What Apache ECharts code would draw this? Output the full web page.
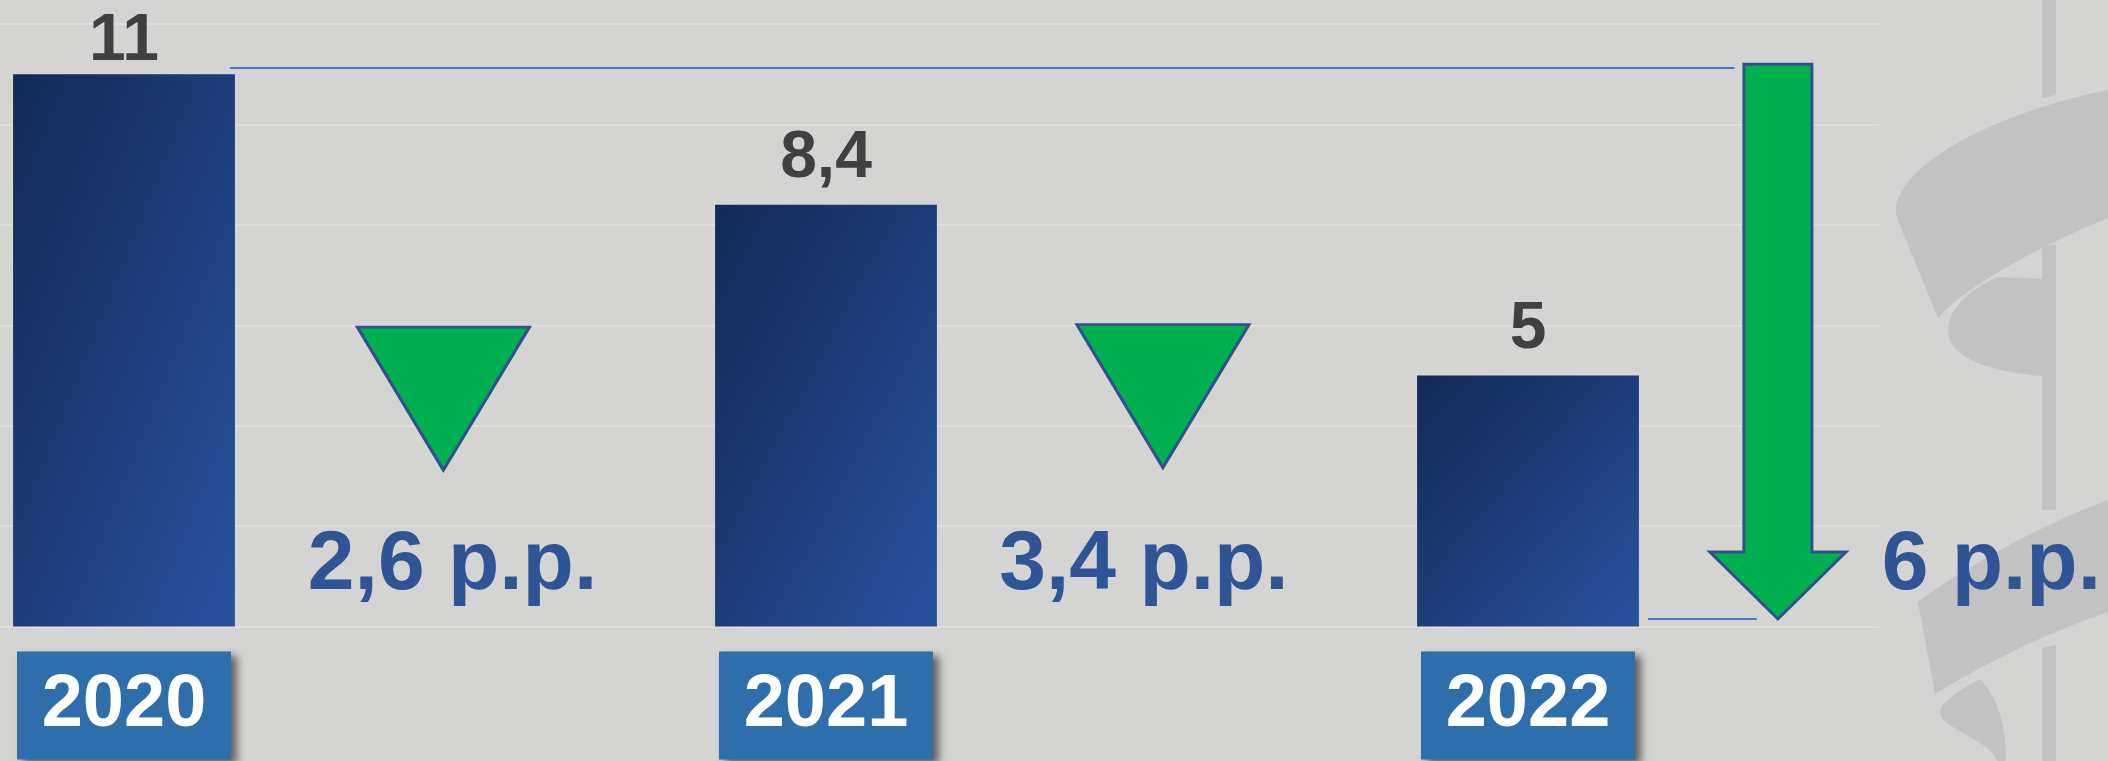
<!DOCTYPE html>
<html lang="pl">
<head>
    <meta charset="UTF-8">
    <title>Spadek p.p.</title>
    <script src="https://cdn.jsdelivr.net/npm/echarts@6/dist/echarts.min.js"></script>
    <style>
        html, body {
            margin: 0;
            padding: 0;
            background: #D4D4D2;
            overflow: hidden;
        }
        /* wykres zaczyna się poza lewą krawędzią, jak w oryginale */
        #chart {
            position: absolute;
            left: -227px;
            top: 0;
            width: 2335px;
            height: 761px;
        }
    </style>
</head>
<body>
<div id="chart"></div>
<script>
    // dane
    const years = ['2020', '2021', '2022'];
    const rates = [11, 8.4, 5];

    // spadki między latami (p.p.) i ich położenie na osi pomocniczej
    const drops = [2.6, 3.4, 6];
    const dropTextX = [0.468, 1.453, 2.66];
    const dropTextY = [1.2, 1.2, 1.2];
    const triangleX = [0.455, 1.48];
    const triangleY = [4.54, 4.59];

    // strzałka całkowitego spadku: [x, góra, grot]
    const arrowX = 2.356;
    const arrowTop = 11.2;
    const arrowTip = 0.15;

    // linie pomocnicze
    const guideTop = [[0.151, 11.13], [2.294, 11.13]];
    const guideBottom = [[2.171, 0.15], [2.326, 0.15]];

    // znak wodny (tło, w pikselach ekranu)
    const watermark = [
        'M2042,0 L2056,0 L2056,95 L2042,98 Z',
        'M2042,247 L2056,244 L2056,510 L2042,510 Z',
        'M2042,648 L2056,645 L2056,761 L2042,761 Z',
        'M1897,218 L1938,318 C1962,290 2030,250 2108,218 L2108,90 C2030,105 1925,145 1900,195 Q1893,206 1897,218 Z',
        'M1997,277 L2042,279 L2042,376 C1990,372 1948,358 1948,330 C1948,305 1975,288 1997,277 Z',
        'M2108,500 C2040,525 1960,570 1918,602 L1935,694 C1990,660 2050,632 2108,612 Z',
        'M1980,679 C1960,690 1938,703 1940,714 C1945,730 1990,740 1997,761 L2006,761 C2006,730 2000,700 1980,679 Z'
    ];
    const SHIFT = 227;

    const fmt = v => String(v).replace('.', ',');
    const FONT = "'Liberation Sans', Arial, sans-serif";

    const chart = echarts.init(document.getElementById('chart'));

    const option = {
        backgroundColor: '#D4D4D2',
        animation: false,
        grid: { left: 0, right: 229, top: 24, bottom: 134.5 },
        xAxis: [
            {
                type: 'category',
                data: years,
                axisLine: { show: false },
                axisTick: { show: false },
                axisLabel: {
                    margin: 25,
                    formatter: v => '{b|' + v + '}',
                    rich: {
                        b: {
                            width: 214,
                            height: 108,
                            lineHeight: 108,
                            align: 'center',
                            backgroundColor: '#2E6EAA',
                            color: '#FFFFFF',
                            fontSize: 74,
                            fontWeight: 'bold',
                            fontFamily: FONT,
                            shadowColor: 'rgba(0,0,0,0.55)',
                            shadowBlur: 8,
                            shadowOffsetX: 6,
                            shadowOffsetY: 4
                        }
                    }
                }
            },
            { type: 'value', min: -0.5, max: 2.5, show: false }
        ],
        yAxis: {
            type: 'value',
            min: 0,
            max: 12,
            interval: 2,
            axisLabel: { show: false },
            axisLine: { show: false },
            axisTick: { show: false },
            splitLine: { lineStyle: { color: '#DEDEDC', width: 2 } }
        },
        series: [
            {
                type: 'custom',
                coordinateSystem: 'none',
                silent: true,
                z: 0,
                data: [0],
                renderItem: () => ({
                    type: 'group',
                    x: SHIFT,
                    children: watermark.map(d => ({
                        type: 'path',
                        shape: { pathData: d },
                        style: { fill: '#C2C2C2' }
                    }))
                })
            },
            {
                id: 'bars',
                type: 'bar',
                data: rates,
                barWidth: '31.6%',
                itemStyle: { color: '#1E3C78' },
                label: {
                    show: true,
                    position: 'top',
                    distance: 13,
                    formatter: p => fmt(p.value),
                    color: '#404040',
                    fontSize: 66,
                    fontWeight: 'bold',
                    fontFamily: FONT
                }
            },
            {
                type: 'lines',
                coordinateSystem: 'cartesian2d',
                xAxisIndex: 1,
                silent: true,
                lineStyle: { color: '#4A78C8', width: 2, opacity: 1 },
                data: [{ coords: guideTop }, { coords: guideBottom }]
            },
            {
                type: 'scatter',
                xAxisIndex: 1,
                clip: false,
                symbol: 'triangle',
                symbolRotate: 180,
                symbolSize: [172, 143],
                itemStyle: { color: '#00B050', borderColor: '#2F528F', borderWidth: 3, opacity: 1 },
                data: triangleX.map((x, i) => [x, triangleY[i]])
            },
            {
                type: 'custom',
                xAxisIndex: 1,
                clip: false,
                data: [[arrowX, arrowTop, arrowTip]],
                renderItem: (params, api) => {
                    const top = api.coord([api.value(0), api.value(1)]);
                    const tip = api.coord([api.value(0), api.value(2)]);
                    const cx = top[0];
                    const headY = tip[1] - 67;
                    return {
                        type: 'polygon',
                        shape: {
                            points: [
                                [cx - 34, top[1]], [cx + 34, top[1]], [cx + 34, headY],
                                [cx + 68, headY], [cx, tip[1]], [cx - 68, headY], [cx - 34, headY]
                            ]
                        },
                        style: { fill: '#00B050', stroke: '#2F528F', lineWidth: 3 }
                    };
                }
            },
            {
                type: 'scatter',
                xAxisIndex: 1,
                clip: false,
                symbolSize: 0,
                z: 5,
                itemStyle: { opacity: 1 },
                data: drops.map((d, i) => [dropTextX[i], dropTextY[i], d]),
                label: {
                    show: true,
                    position: 'inside',
                    formatter: p => fmt(p.value[2]) + ' p.p.',
                    color: '#2F5597',
                    fontSize: 84,
                    fontWeight: 'bold',
                    fontFamily: FONT
                }
            }
        ]
    };

    chart.setOption(option);

    // gradient ukośny skalowany do kształtu słupka (jak w PowerPoint)
    const zeroY = chart.convertToPixel({ yAxisIndex: 0 }, 0);
    const barW = (2335 - 229) / years.length * 0.316;
    const barData = rates.map((v, i) => {
        const h = zeroY - chart.convertToPixel({ yAxisIndex: 0 }, v);
        const s = h * h + barW * barW;
        return {
            value: v,
            itemStyle: {
                color: new echarts.graphic.LinearGradient(0, 0, 2 * h * h / s, 2 * barW * barW / s, [
                    { offset: 0, color: '#132957' },
                    { offset: 1, color: '#28529D' }
                ])
            },
            label: i === 0 ? { distance: -1 } : {}
        };
    });
    chart.setOption({ series: [{ id: 'bars', data: barData }] });
</script>
</body>
</html>
